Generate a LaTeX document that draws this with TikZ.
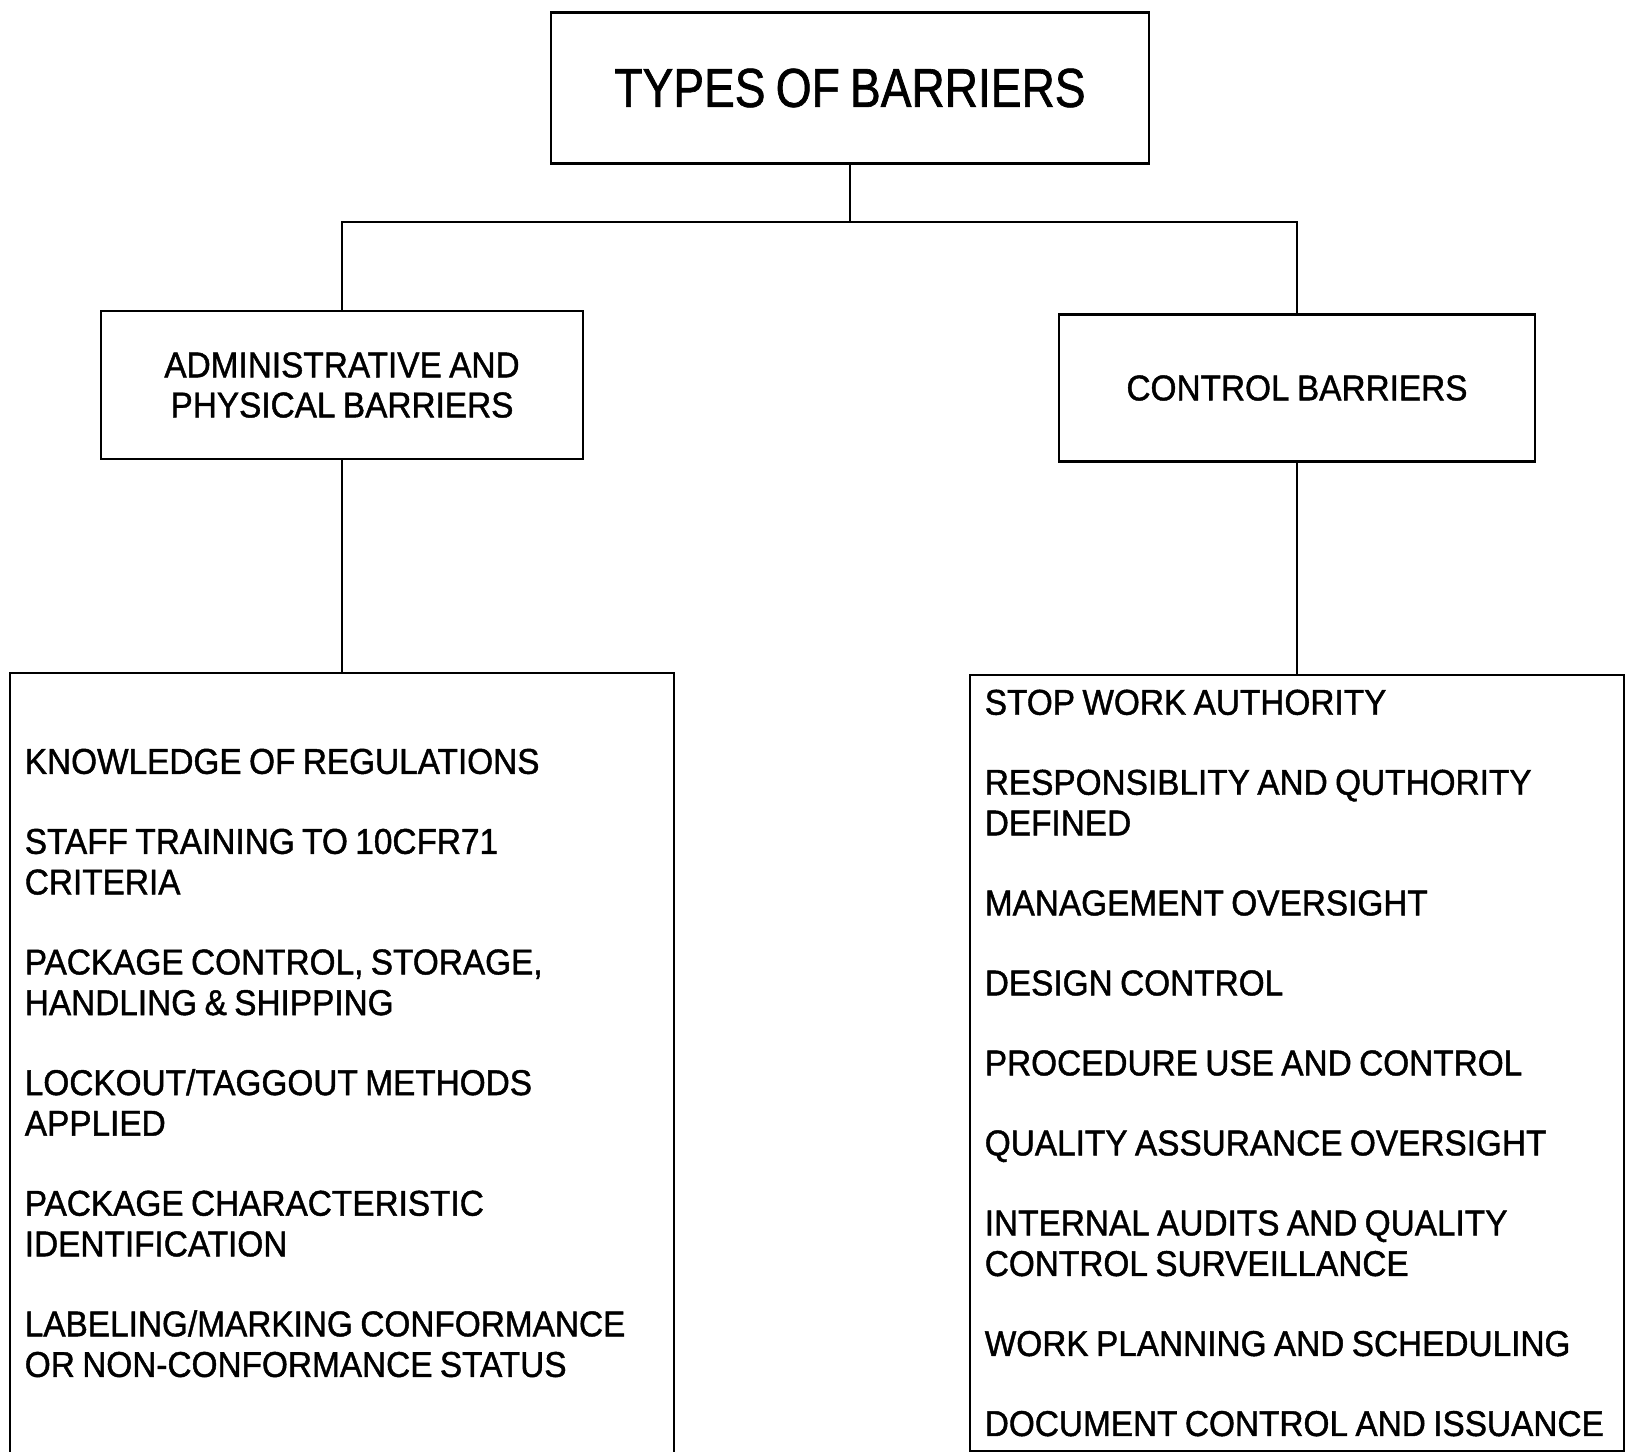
\documentclass[tikz,border=0pt]{standalone}
\usepackage{fontspec}
\setmainfont[FakeStretch=0.93, FakeBold=1.2, WordSpace=0.8]{Liberation Sans}
\newfontfamily\titlefont[FakeStretch=0.84, FakeBold=1.2, WordSpace=0.8]{Liberation Sans}
\usetikzlibrary{positioning}
\hyphenpenalty=10000

\begin{document}
\begin{tikzpicture}[x=0.01cm, y=-0.01cm, line width=0.6pt,
  every node/.style={font=\fontsize{10.2}{11.4}\selectfont},
  box/.style={draw, align=center, inner sep=0pt},
  listbox/.style={draw, align=flush left, inner xsep=0.15cm, inner ysep=0pt, font=\fontsize{10.2}{11.55}\selectfont}]
  \useasboundingbox (0,0) rectangle (1633,1451);
  \node[box, minimum width=5.97cm, minimum height=1.51cm, font=\titlefont\fontsize{15.6}{18}\selectfont] (types) at (850,88) {TYPES OF BARRIERS};
  \node[box, minimum width=4.82cm, minimum height=1.48cm] (admin) at (342,385) {ADMINISTRATIVE AND\\PHYSICAL BARRIERS};
  \node[box, minimum width=4.75cm, minimum height=1.47cm] (ctrl) at (1297,388) {CONTROL BARRIERS};
  \node[listbox, text width=6.34cm, minimum height=7.79cm, below=2.12cm of admin] (adminlist) {%
    KNOWLEDGE OF REGULATIONS\\[11.2pt]
    STAFF TRAINING TO 10CFR71\\CRITERIA\\[11.2pt]
    PACKAGE CONTROL, STORAGE,\\HANDLING \& SHIPPING\\[11.2pt]
    LOCKOUT/TAGGOUT METHODS\\APPLIED\\[11.2pt]
    PACKAGE CHARACTERISTIC\\IDENTIFICATION\\[11.2pt]
    LABELING/MARKING CONFORMANCE\\OR NON-CONFORMANCE STATUS};
  \node[listbox, text width=6.24cm, minimum height=7.76cm, below=2.11cm of ctrl] (ctrllist) {%
    STOP WORK AUTHORITY\\[11.2pt]
    RESPONSIBLITY AND QUTHORITY\\DEFINED\\[11.2pt]
    MANAGEMENT OVERSIGHT\\[11.2pt]
    DESIGN CONTROL\\[11.2pt]
    PROCEDURE USE AND CONTROL\\[11.2pt]
    QUALITY ASSURANCE OVERSIGHT\\[11.2pt]
    INTERNAL AUDITS AND QUALITY\\CONTROL SURVEILLANCE\\[11.2pt]
    WORK PLANNING AND SCHEDULING\\[11.2pt]
    DOCUMENT CONTROL AND ISSUANCE};
  \coordinate (bus) at (850,222);
  \draw (types.south) -- (bus);
  \draw (admin.north) |- (bus) -| (ctrl.north);
  \draw (admin.south) -- (adminlist.north);
  \draw (ctrl.south) -- (ctrllist.north);
\end{tikzpicture}
\end{document}
